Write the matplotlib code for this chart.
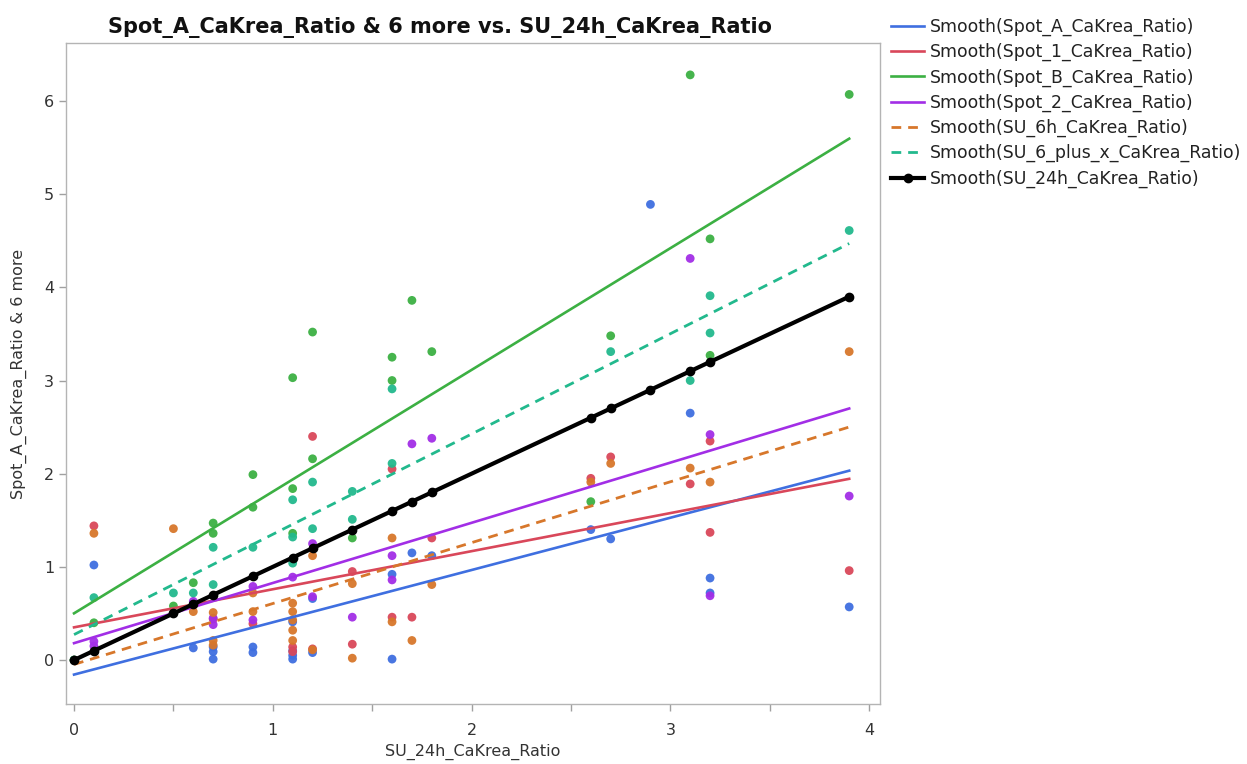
import numpy as np
import matplotlib
matplotlib.use("Agg")
import matplotlib.pyplot as plt

# ---------------- data ----------------
su24_x = [0, 0.1, 0.5, 0.6, 0.7, 0.9, 1.1, 1.2, 1.4, 1.6, 1.7, 1.8, 2.6, 2.7, 2.9, 3.1, 3.2, 3.9]

spotA_x = [0.1, 0.6, 0.7, 0.7, 0.7, 0.9, 0.9, 1.1, 1.1, 1.1, 1.1, 1.2, 1.2, 1.6, 1.6, 1.7, 1.8, 2.6, 2.7, 2.9, 3.1, 3.2, 3.2, 3.9]
spotA_y = [1.02, 0.13, 0.14, 0.09, 0.01, 0.14, 0.08, 0.41, 0.10, 0.05, 0.01, 0.66, 0.08, 0.92, 0.01, 1.15, 1.12, 1.40, 1.30, 4.89, 2.65, 0.88, 0.72, 0.57]

spot1_x = [0, 0.1, 0.7, 0.9, 1.1, 1.1, 1.2, 1.2, 1.4, 1.4, 1.6, 1.6, 1.7, 1.8, 2.6, 2.7, 3.1, 3.2, 3.2, 3.9]
spot1_y = [0.0, 1.44, 0.44, 0.39, 0.14, 0.09, 2.40, 0.12, 0.95, 0.17, 2.05, 0.46, 0.46, 1.31, 1.95, 2.18, 1.89, 2.35, 1.37, 0.96]

spotB_x = [0, 0.1, 0.5, 0.6, 0.7, 0.7, 0.9, 0.9, 1.1, 1.1, 1.1, 1.2, 1.2, 1.4, 1.6, 1.6, 1.7, 1.8, 2.6, 2.7, 3.1, 3.2, 3.2, 3.9]
spotB_y = [0.0, 0.40, 0.58, 0.83, 1.47, 1.36, 1.99, 1.64, 3.03, 1.84, 1.36, 3.52, 2.16, 1.31, 3.25, 3.00, 3.86, 3.31, 1.70, 3.48, 6.28, 4.52, 3.27, 6.07]

spot2_x = [0.1, 0.1, 0.6, 0.7, 0.7, 0.9, 0.9, 1.1, 1.2, 1.2, 1.4, 1.6, 1.6, 1.7, 1.8, 3.1, 3.2, 3.2, 3.9]
spot2_y = [0.20, 0.15, 0.63, 0.45, 0.38, 0.79, 0.43, 0.89, 1.25, 0.68, 0.46, 1.12, 0.86, 2.32, 2.38, 4.31, 2.42, 0.69, 1.76]

su6h_x = [0.1, 0.5, 0.6, 0.7, 0.7, 0.7, 0.9, 0.9, 1.1, 1.1, 1.1, 1.1, 1.1, 1.2, 1.2, 1.4, 1.4, 1.6, 1.6, 1.7, 1.8, 2.6, 2.7, 3.1, 3.2, 3.9]
su6h_y = [1.36, 1.41, 0.52, 0.51, 0.21, 0.16, 0.72, 0.52, 0.61, 0.52, 0.43, 0.32, 0.21, 1.12, 0.11, 0.82, 0.02, 1.31, 0.41, 0.21, 0.81, 1.91, 2.11, 2.06, 1.91, 3.31]

su6x_x = [0, 0.1, 0.5, 0.6, 0.7, 0.7, 0.9, 1.1, 1.1, 1.1, 1.2, 1.2, 1.4, 1.4, 1.6, 1.6, 2.7, 3.1, 3.2, 3.2, 3.9]
su6x_y = [0.0, 0.67, 0.72, 0.72, 1.21, 0.81, 1.21, 1.72, 1.32, 1.04, 1.91, 1.41, 1.81, 1.51, 2.91, 2.11, 3.31, 3.00, 3.91, 3.51, 4.61]

series_names = ["Spot_A_CaKrea_Ratio", "Spot_1_CaKrea_Ratio", "Spot_B_CaKrea_Ratio",
                "Spot_2_CaKrea_Ratio", "SU_6h_CaKrea_Ratio", "SU_6_plus_x_CaKrea_Ratio"]
series_x = [spotA_x, spot1_x, spotB_x, spot2_x, su6h_x, su6x_x]
series_y = [spotA_y, spot1_y, spotB_y, spot2_y, su6h_y, su6x_y]
colors = ["#3F6FE0", "#D9475A", "#3CB043", "#A22EE6", "#D7772B", "#22B98D"]
styles = ["-", "-", "-", "-", "--", "--"]

# ---------------- figure ----------------
fig = plt.figure(figsize=(12.47, 7.64), dpi=100)
ax = fig.add_axes([0.053, 0.0785, 0.6527, 0.8652])

xs_all = np.array(su24_x)
xfit = np.array([xs_all.min(), xs_all.max()])

for xv, yv, c in zip(series_x, series_y, colors):
    ax.scatter(xv, yv, s=40, color=c, edgecolors="none", zorder=3, alpha=0.95)

handles = []
for xv, yv, c, ls, nm in zip(series_x, series_y, colors, styles, series_names):
    k, b = np.polyfit(xv, yv, 1)
    if ls == "--":
        h, = ax.plot(xfit, k * xfit + b, color=c, lw=2.0, ls=(0, (3.5, 2.5)), zorder=4,
                     label=f"Smooth({nm})")
    else:
        h, = ax.plot(xfit, k * xfit + b, color=c, lw=1.9, zorder=4, label=f"Smooth({nm})")
    handles.append(h)

hb, = ax.plot(su24_x, su24_x, color="black", lw=3.0, marker="o", ms=6, zorder=5,
              label="Smooth(SU_24h_CaKrea_Ratio)")
handles.append(hb)

ax.set_xlim(-0.04, 4.055)
ax.set_ylim(-0.472, 6.622)
ax.set_xticks([0, 1, 2, 3, 4])
ax.set_xticks([0.5, 1.5, 2.5, 3.5], minor=True)
ax.set_yticks([0, 1, 2, 3, 4, 5, 6])

for s in ax.spines.values():
    s.set_color("#B4B4B4")
    s.set_linewidth(1.0)
ax.tick_params(axis="both", which="both", direction="out", color="#A0A0A0", length=5,
               labelsize=11.5, labelcolor="#333333", width=1.0)
ax.tick_params(axis="x", which="minor", length=5)
ax.tick_params(axis="x", pad=9)

fig.text(440 / 1247, 1 - 27 / 764, "Spot_A_CaKrea_Ratio & 6 more vs. SU_24h_CaKrea_Ratio",
         fontsize=15, fontweight="bold", ha="center", va="center", color="#111111")
ax.set_xlabel("SU_24h_CaKrea_Ratio", fontsize=11.5, color="#333333", labelpad=4)
ax.set_ylabel("Spot_A_CaKrea_Ratio & 6 more", fontsize=11.5, color="#333333", labelpad=12)

leg = fig.legend(handles=handles, loc="upper left", bbox_to_anchor=(0.709, 0.986),
                 frameon=False, fontsize=12.4, handlelength=1.92, handletextpad=0.35,
                 labelspacing=0.41, borderaxespad=0.0)
for t in leg.get_texts():
    t.set_color("#222222")

fig.savefig("out.png", dpi=100)
